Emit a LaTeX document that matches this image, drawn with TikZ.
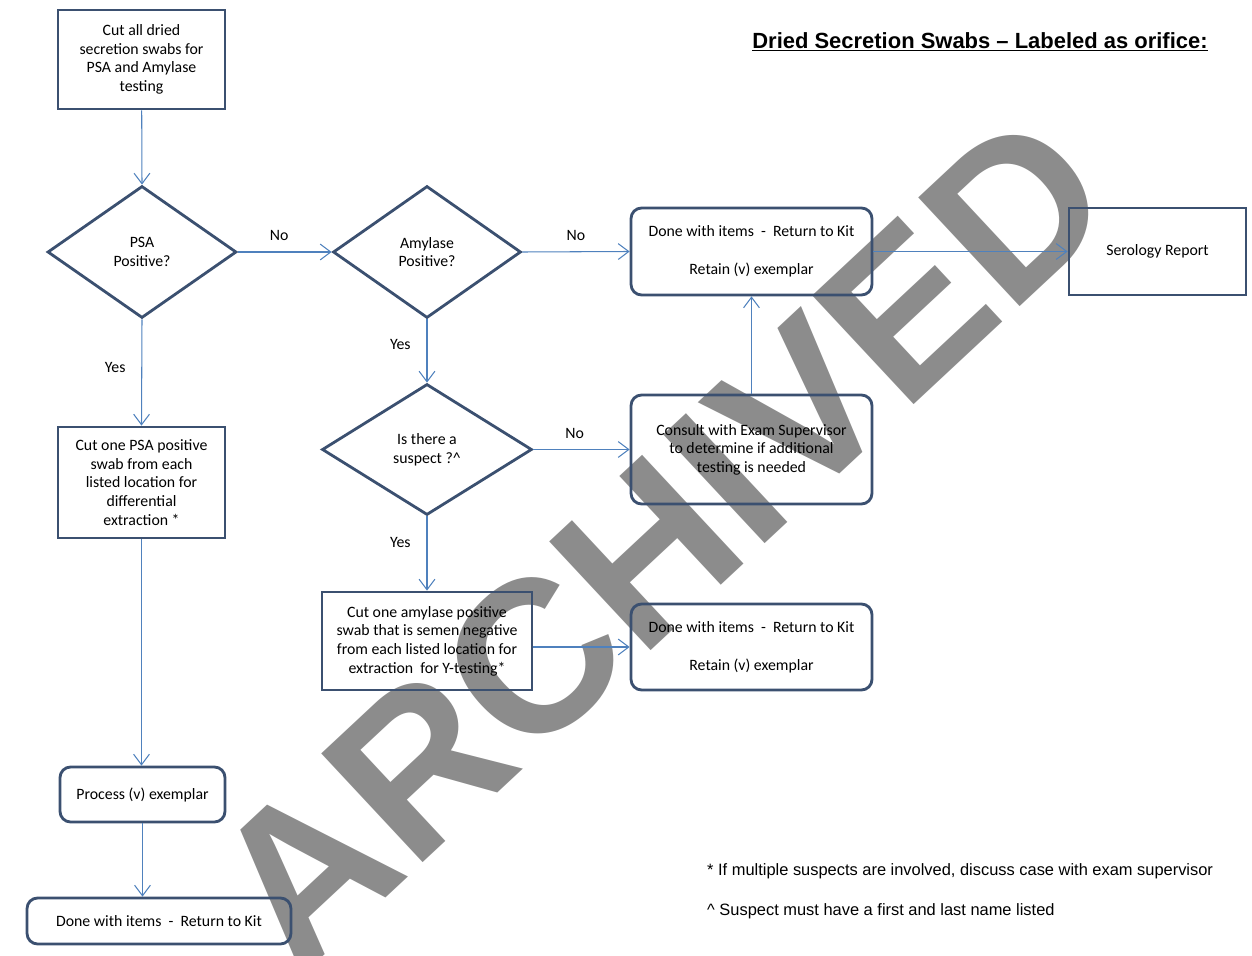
\documentclass[tikz,border=0pt]{standalone}
\usepackage{fontspec}
\setmainfont{Carlito}
\newfontfamily\arialfont{Liberation Sans}
\usetikzlibrary{shapes.geometric,arrows.meta}

\definecolor{boxline}{RGB}{59,80,112}
\definecolor{flowline}{RGB}{79,129,189}
\definecolor{stampgray}{RGB}{140,140,140}

\begin{document}
\begin{tikzpicture}[
  x=0.02cm, y=-0.02cm,
  every node/.style={font=\fontsize{9}{10.6}\selectfont},
  box/.style={rectangle, draw=boxline, line width=1.6pt, align=center, inner sep=2pt},
  rbox/.style={box, rounded corners=6pt},
  decision/.style={diamond, draw=boxline, line width=1.6pt, align=center, inner sep=0pt},
  arrow/.style={-{Straight Barb[length=6pt,width=9pt]}, draw=flowline, line width=0.6pt},
  lbl/.style={inner sep=1pt}
]
  \useasboundingbox (0,0) rectangle (1252,956);

  % Watermark (behind everything)
  \node[rotate=43, text=stampgray, font=\arialfont\bfseries\fontsize{123}{123}\selectfont] (stamp) at (660,540) {ARCHIVED};

  % Title and notes
  \node[font=\arialfont\bfseries\fontsize{12.5}{14}\selectfont] (title) at (980,42) {\underline{Dried Secretion Swabs – Labeled as orifice:}};
  \node[anchor=west, font=\arialfont\fontsize{9.35}{11}\selectfont] (note1) at (701,871) {* If multiple suspects are involved, discuss case with exam supervisor};
  \node[anchor=west, font=\arialfont\fontsize{9.35}{11}\selectfont] (note2) at (701,911) {\textasciicircum{} Suspect must have a first and last name listed};

  % Left column
  \node[box, minimum width=3.34cm, minimum height=1.98cm] (cutall) at (141.5,59.5) {Cut all dried\\secretion swabs for\\PSA and Amylase\\testing};
  \node[decision, minimum width=3.78cm, minimum height=2.64cm] (psa) at (142,252) {PSA\\Positive?};
  \node[box, minimum width=3.34cm, minimum height=2.22cm] (cutpsa) at (141.5,482.5) {Cut one PSA positive\\swab from each\\listed location for\\differential\\extraction *};
  \node[rbox, minimum width=3.3cm, minimum height=1.1cm] (process) at (142.5,794.5) {Process (v) exemplar};
  \node[rbox, minimum width=5.28cm, minimum height=0.92cm] (donekit) at (159,921) {Done with items\ \ -\ \ Return to Kit};

  % Middle column
  \node[decision, minimum width=3.76cm, minimum height=2.64cm] (amylase) at (427,252) {Amylase\\Positive?};
  \node[decision, minimum width=4.2cm, minimum height=2.62cm] (suspect) at (427,449.5) {Is there a\\suspect ?\textasciicircum};
  \node[box, minimum width=4.2cm, minimum height=1.96cm] (cutamy) at (427,641) {Cut one amylase positive\\swab that is semen negative\\from each listed location for\\extraction\ \ for Y-testing*};

  % Right column
  \node[rbox, minimum width=4.82cm, minimum height=1.74cm] (doneretain) at (751.5,251.5) {Done with items\ \ -\ \ Return to Kit\\[11pt]Retain (v) exemplar};
  \node[rbox, minimum width=4.82cm, minimum height=2.18cm] (consult) at (751.5,449.5) {Consult with Exam Supervisor\\to determine if additional\\testing is needed};
  \node[rbox, minimum width=4.82cm, minimum height=1.72cm] (doneamy) at (751.5,647) {Done with items\ \ -\ \ Return to Kit\\[11pt]Retain (v) exemplar};
  \node[box, minimum width=3.54cm, minimum height=1.74cm] (serology) at (1157.5,251.5) {Serology Report};

  % Connectors
  \draw[arrow] (cutall) -- (psa.north);
  \draw[arrow] (psa.east) -- node[lbl, pos=0.44, above=5pt] {No} (amylase.west);
  \draw[arrow] (psa.south) -- node[lbl, pos=0.45, left=8pt] {Yes} (cutpsa.north);
  \draw[arrow] (cutpsa.south) -- (process.north -| cutpsa.south);
  \draw[arrow] (process.south) -- (process.south |- donekit.north);
  \draw[arrow] (amylase.east) -- node[lbl, above=5pt] {No} (doneretain.west);
  \draw[arrow] (amylase.south) -- node[lbl, pos=0.39, left=8pt] {Yes} (suspect.north);
  \draw[arrow] (suspect.east) -- node[lbl, pos=0.43, above=5pt] {No} (consult.west);
  \draw[arrow] (suspect.south) -- node[lbl, pos=0.35, left=8pt] {Yes} (cutamy.north);
  \draw[arrow] (consult.north) -- (doneretain.south);
  \draw[arrow] (cutamy.east |- doneamy.west) -- (doneamy.west);
  \draw[arrow] (doneretain.east) -- (serology.west);
\end{tikzpicture}
\end{document}
